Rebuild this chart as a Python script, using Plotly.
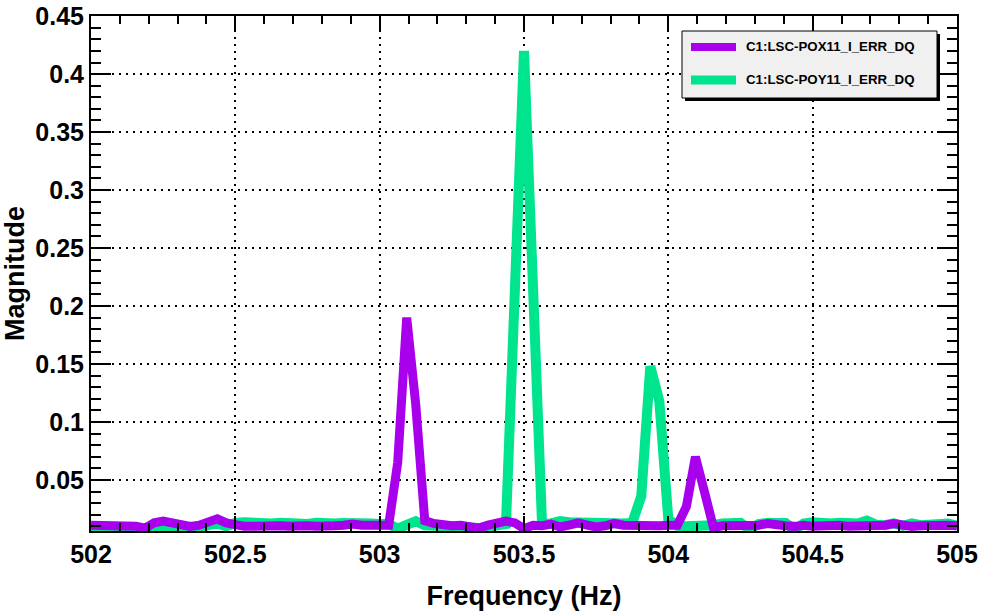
import plotly.graph_objects as go

# frequency bins (Hz), 1/32 Hz spacing from 502 to 505
freq_start = 502.0
freq_step = 1.0 / 32.0

pox_name = "C1:LSC-POX11_I_ERR_DQ"
poy_name = "C1:LSC-POY11_I_ERR_DQ"

pox_mag = [
    0.011, 0.011, 0.011, 0.010, 0.010, 0.010, 0.0085, 0.013, 0.0145, 0.013,
    0.011, 0.010, 0.011, 0.013, 0.0165, 0.013, 0.011, 0.010, 0.010, 0.0105,
    0.011, 0.0105, 0.010, 0.011, 0.0105, 0.010, 0.011, 0.0105, 0.011, 0.012,
    0.011, 0.0105, 0.011, 0.011, 0.065, 0.19, 0.115, 0.015, 0.0125, 0.011,
    0.0105, 0.011, 0.0095, 0.0085, 0.011, 0.0125, 0.0145, 0.013, 0.008, 0.011,
    0.0105, 0.012, 0.0095, 0.011, 0.013, 0.011, 0.0095, 0.0105, 0.0125, 0.011,
    0.0105, 0.010, 0.010, 0.0105, 0.011, 0.011, 0.027, 0.070, 0.040, 0.009,
    0.0105, 0.0105, 0.011, 0.0095, 0.011, 0.0125, 0.011, 0.0105, 0.010, 0.011,
    0.010, 0.0105, 0.010, 0.011, 0.010, 0.010, 0.0105, 0.010, 0.011, 0.0125,
    0.011, 0.010, 0.0105, 0.011, 0.0105, 0.011, 0.0105,
]

poy_mag = [
    0.009, 0.0095, 0.010, 0.0095, 0.009, 0.0085, 0.0065, 0.007, 0.0105, 0.0095,
    0.009, 0.008, 0.009, 0.011, 0.0125, 0.010, 0.013, 0.0135, 0.0125, 0.013,
    0.0125, 0.013, 0.012, 0.011, 0.012, 0.013, 0.012, 0.0125, 0.013, 0.0135,
    0.012, 0.0125, 0.012, 0.012, 0.008, 0.0115, 0.0145, 0.011, 0.011, 0.0105,
    0.010, 0.0105, 0.009, 0.0085, 0.010, 0.011, 0.012, 0.216, 0.420, 0.216,
    0.012, 0.0125, 0.0145, 0.0135, 0.013, 0.014, 0.0125, 0.013, 0.012, 0.0125,
    0.013, 0.036, 0.148, 0.118, 0.016, 0.0105, 0.010, 0.010, 0.0105, 0.011,
    0.0125, 0.012, 0.013, 0.0075, 0.012, 0.013, 0.0125, 0.013, 0.007, 0.0125,
    0.0135, 0.012, 0.0125, 0.013, 0.0125, 0.0125, 0.015, 0.0115, 0.011, 0.0125,
    0.0105, 0.0125, 0.011, 0.0115, 0.0125, 0.0125, 0.0105,
]

freqs = [freq_start + i * freq_step for i in range(len(pox_mag))]

x_tickvals = [502, 502.5, 503, 503.5, 504, 504.5, 505]
x_ticktext = ["502", "502.5", "503", "503.5", "504", "504.5", "505"]
y_tickvals = [0.05, 0.1, 0.15, 0.2, 0.25, 0.3, 0.35, 0.4, 0.45]
y_ticktext = ["0.05", "0.1", "0.15", "0.2", "0.25", "0.3", "0.35", "0.4", "0.45"]

purple = "#a800ec"
green = "#00e48e"
FONT = "Liberation Sans"

fig = go.Figure()
fig.add_trace(go.Scatter(x=freqs, y=poy_mag, mode="lines", name=poy_name,
                         line=dict(color=green, width=10), showlegend=False))
fig.add_trace(go.Scatter(x=freqs, y=pox_mag, mode="lines", name=pox_name,
                         line=dict(color=purple, width=9), showlegend=False))

axis_common = dict(
    showline=True, linecolor="black", linewidth=2, mirror="allticks",
    ticks="inside", tickcolor="black", tickwidth=1.5,
    showgrid=True, gridcolor="black", gridwidth=1.5, griddash="2px,5px",
    zeroline=False, ticklabeloverflow="allow",
    tickfont=dict(family=FONT, size=25, color="black", weight="bold"),
)

fig.update_xaxes(
    **axis_common,
    range=[502, 505], tickvals=x_tickvals, ticktext=x_ticktext, ticklen=15,
    minor=dict(ticks="inside", dtick=0.1, tick0=502, ticklen=8,
               tickcolor="black", tickwidth=1.5, showgrid=False),
    title=dict(text="Frequency (Hz)", standoff=20,
               font=dict(family=FONT, size=27, color="black", weight="bold")),
)
fig.update_yaxes(
    **axis_common,
    range=[0.006, 0.4501], tickvals=y_tickvals, ticktext=y_ticktext, ticklen=20,
    minor=dict(ticks="inside", dtick=0.01, tick0=0, ticklen=10,
               tickcolor="black", tickwidth=1.5, showgrid=False),
    title=dict(text="Magnitude", standoff=4,
               font=dict(family=FONT, size=27, color="black", weight="bold")),
)

# plot area in page pixels: x 91-957, y 16-531
PX0, PX1, PY0, PY1 = 91, 957, 16, 531
W, H = 982, 611


def px(x):
    return (x - PX0) / (PX1 - PX0)


def py(y):
    return (PY1 - y) / (PY1 - PY0)


# manual legend box with shadow
fig.add_shape(type="rect", xref="paper", yref="paper",
              x0=px(685), x1=px(940), y0=py(101), y1=py(34),
              fillcolor="black", line=dict(width=0), layer="above")
fig.add_shape(type="rect", xref="paper", yref="paper",
              x0=px(682), x1=px(937), y0=py(98), y1=py(31),
              fillcolor="#f0f0f0", line=dict(color="black", width=1), layer="above")
legend_items = [(pox_name, purple, 47, 8), (poy_name, green, 80, 9)]
for name, col, yc, w in legend_items:
    fig.add_shape(type="line", xref="paper", yref="paper",
                  x0=px(691), x1=px(736), y0=py(yc), y1=py(yc),
                  line=dict(color=col, width=w), layer="above")
    fig.add_annotation(xref="paper", yref="paper", x=px(744), y=py(yc),
                       xanchor="left", yanchor="middle", showarrow=False,
                       text=name,
                       font=dict(family=FONT, size=13.3, color="black", weight="bold"))

fig.update_layout(
    width=W, height=H,
    margin=dict(l=PX0, r=W - PX1, t=PY0, b=H - PY1, autoexpand=False),
    paper_bgcolor="white", plot_bgcolor="white",
    showlegend=False,
)

fig.write_html("out.html", config={"displayModeBar": False},
               post_script="document.body.style.margin='0';"
                           "document.body.style.overflow='hidden';")
